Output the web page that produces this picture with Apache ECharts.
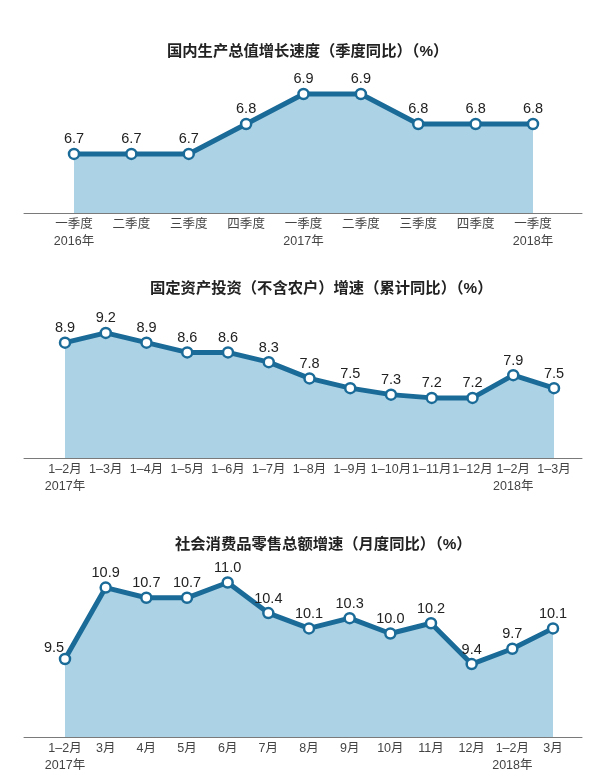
<!DOCTYPE html>
<html><head><meta charset="utf-8">
<script src="https://cdn.jsdelivr.net/npm/echarts@6/dist/echarts.min.js"></script>
<style>html,body{margin:0;padding:0;background:#fff}#c{width:600px;height:777px}</style>
</head><body><div id="c"></div>
<script>
const gdpTitle = '国内生产总值增长速度（季度同比）（%）';
const gdpCats = ['一季度\n2016年','二季度','三季度','四季度','一季度\n2017年','二季度','三季度','四季度','一季度\n2018年'];
const gdpVals = [6.7,6.7,6.7,6.8,6.9,6.9,6.8,6.8,6.8];

const invTitle = '固定资产投资（不含农户）增速（累计同比）（%）';
const invCats = ['1–2月\n2017年','1–3月','1–4月','1–5月','1–6月','1–7月','1–8月','1–9月','1–10月','1–11月','1–12月','1–2月\n2018年','1–3月'];
const invVals = [8.9,9.2,8.9,8.6,8.6,8.3,7.8,7.5,7.3,7.2,7.2,7.9,7.5];

const retTitle = '社会消费品零售总额增速（月度同比）（%）';
const retCats = ['1–2月\n2017年','3月','4月','5月','6月','7月','8月','9月','10月','11月','12月','1–2月\n2018年','3月'];
const retVals = [9.5,10.9,10.7,10.7,11.0,10.4,10.1,10.3,10.0,10.2,9.4,9.7,10.1];

const LINE = '#1b6b98';
const AREA = '#acd2e5';
const FONT = '"Liberation Sans","Noto Sans CJK SC",sans-serif';

const panels = [
  {title: gdpTitle, titleTop: 39, titleLeft: 162, cats: gdpCats, vals: gdpVals, top: 64, height: 149, left: 74, right: 67, min: 6.503, max: 7.0},
  {title: invTitle, titleTop: 276, titleLeft: 145, cats: invCats, vals: invVals, top: 310, height: 148, left: 65, right: 46, min: 5.35, max: 9.904},
  {title: retTitle, titleTop: 532, titleLeft: 170, cats: retCats, vals: retVals, top: 557, height: 180, left: 65, right: 47, min: 7.97, max: 11.5}
];

const option = {
  backgroundColor: '#fff',
  animation: false,
  title: [], grid: [], xAxis: [], yAxis: [], series: []
};

panels.forEach((p, i) => {
  option.title.push({
    text: p.title, left: p.titleLeft, top: p.titleTop,
    textStyle: {fontFamily: FONT, fontSize: 15.3, fontWeight: 'bold', color: '#222'}
  });
  option.grid.push({left: 24, right: 18, top: p.top, height: p.height});
  option.xAxis.push({gridIndex: 2*i, type: 'value', min: 0, max: 1,
    axisLine: {show: true, onZero: false, lineStyle: {color: '#7a7a7a', width: 1}},
    axisTick: {show: false}, axisLabel: {show: false}, splitLine: {show: false}});
  option.yAxis.push({gridIndex: 2*i, type: 'value', min: 0, max: 1, show: false});
  option.grid.push({left: p.left, right: p.right, top: p.top, height: p.height});
  option.xAxis.push({gridIndex: 2*i+1, type: 'category', data: p.cats, boundaryGap: false,
    axisLine: {show: false}, axisTick: {show: false},
    axisLabel: {interval: 0, margin: 3, fontFamily: FONT, fontSize: 12.5, lineHeight: 17, color: '#444'}});
  option.yAxis.push({gridIndex: 2*i+1, type: 'value', min: p.min, max: p.max, show: false});
  option.series.push({
    type: 'line', xAxisIndex: 2*i+1, yAxisIndex: 2*i+1,
    data: p.vals.map((v, k) => (i === 2 && k === 0) ? {value: v, label: {offset: [-11, 4]}} : v),
    symbol: 'circle', symbolSize: 10,
    lineStyle: {color: LINE, width: 5},
    itemStyle: {color: '#fff', borderColor: LINE, borderWidth: 2.5},
    areaStyle: {color: AREA, opacity: 1},
    label: {show: true, position: 'top', distance: 1, fontFamily: FONT, fontSize: 14.5, color: '#222',
      formatter: q => Number(q.value).toFixed(1)},
    z: 3
  });
});

const chart = echarts.init(document.getElementById('c'), null, {renderer: 'canvas'});
chart.setOption(option);
</script></body></html>
